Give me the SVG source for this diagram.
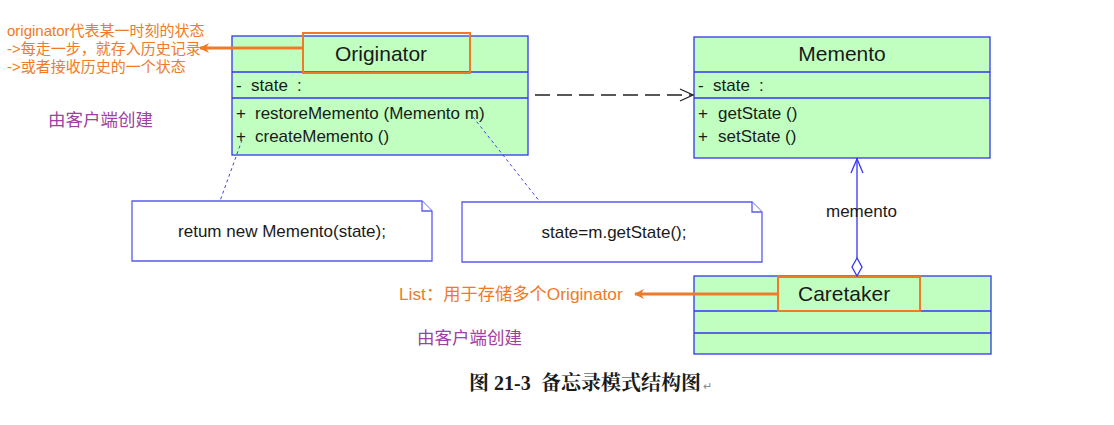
<svg xmlns="http://www.w3.org/2000/svg" width="1114" height="425" viewBox="0 0 1114 425">
<defs>
<style>
.cls{fill:#c0ffc0;stroke:#3535f5;stroke-width:1.3}
.div{stroke:#3535f5;stroke-width:1.3}
.t{font-family:"Liberation Sans","Noto Sans CJK SC",sans-serif;fill:#1a1a1a}
.title{font-size:21px;text-anchor:middle}
.mem{font-size:17px}
.note{fill:#ffffff;stroke:#5a5af0;stroke-width:1.3}
.ntxt{font-size:17px;text-anchor:middle}
.ann{font-family:"Liberation Sans","Noto Sans CJK SC",sans-serif;font-size:15px;fill:#f07a28}
.ann2{font-family:"Liberation Sans","Noto Sans CJK SC",sans-serif;font-size:17.3px;fill:#f07a28}
.purple{font-family:"Noto Sans CJK SC",sans-serif;font-size:17.5px;fill:#a040a0}
.hl{fill:none;stroke:#f07a28;stroke-width:2}
.dot{stroke:#4040f0;stroke-width:1;stroke-dasharray:3 3;fill:none}
.cap{font-weight:bold;font-size:20px;fill:#1a1a1a}
</style>
<marker id="oarr" markerWidth="10" markerHeight="10" refX="9" refY="5" orient="auto" markerUnits="userSpaceOnUse" viewBox="0 0 10 10">
<path d="M0,0 L10,5 L0,10 L3,5 Z" fill="#f07a28"/>
</marker>
</defs>

<g id="annotation-top">
<text class="ann" x="7" y="36">originator代表某一时刻的状态</text>
<text class="ann" x="7" y="54">-&gt;每走一步，就存入历史记录</text>
<text class="ann" x="7" y="72">-&gt;或者接收历史的一个状态</text>
</g>
<text class="purple" x="48" y="126">由客户端创建</text>

<g id="Originator">
<rect class="cls" x="232" y="36" width="296" height="119"/>
<line class="div" x1="232" y1="72" x2="528" y2="72"/>
<line class="div" x1="232" y1="98" x2="528" y2="98"/>
<text class="t title" x="381" y="61">Originator</text>
<text class="t mem" x="236" y="91">-</text><text class="t mem" x="251" y="91">state</text><text class="t mem" x="297" y="91">:</text>
<text class="t mem" x="236" y="119">+</text><text class="t mem" x="255" y="119">restoreMemento (Memento m)</text>
<text class="t mem" x="236" y="142">+</text><text class="t mem" x="255" y="142">createMemento ()</text>
<rect class="hl" x="303" y="33" width="167" height="40"/>
</g>

<g id="Memento">
<rect class="cls" x="694" y="37" width="296" height="121"/>
<line class="div" x1="694" y1="72" x2="990" y2="72"/>
<line class="div" x1="694" y1="98" x2="990" y2="98"/>
<text class="t title" x="842" y="61">Memento</text>
<text class="t mem" x="698" y="91">-</text><text class="t mem" x="713" y="91">state</text><text class="t mem" x="759" y="91">:</text>
<text class="t mem" x="698" y="119">+</text><text class="t mem" x="718" y="119">getState ()</text>
<text class="t mem" x="698" y="142">+</text><text class="t mem" x="718" y="142">setState ()</text>
</g>

<g id="Caretaker">
<rect class="cls" x="694" y="276" width="297" height="78"/>
<line class="div" x1="694" y1="311" x2="991" y2="311"/>
<line class="div" x1="694" y1="333" x2="991" y2="333"/>
<text class="t" x="798" y="301" font-size="21">Caretaker</text>
<rect class="hl" x="778" y="277" width="142" height="34"/>
</g>

<g id="note1">
<path class="note" d="M132,201 H422 L432,211 V261 H132 Z"/>
<path class="note" d="M422,201 V211 H432"/>
<text class="t ntxt" x="282" y="237">retum new Memento(state);</text>
</g>

<g id="note2">
<path class="note" d="M462,202 H752 L762,212 V262 H462 Z"/>
<path class="note" d="M752,202 V212 H762"/>
<text class="t ntxt" x="614" y="238">state=m.getState();</text>
</g>

<g id="annotation-caretaker">
<text class="ann2" x="399" y="300">List：用于存储多个Originator</text>
</g>
<text class="purple" x="417" y="344">由客户端创建</text>

<g id="connectors">
<line x1="303" y1="48" x2="200" y2="48" stroke="#f07a28" stroke-width="3" marker-end="url(#oarr)"/>
<line x1="778" y1="294" x2="635" y2="294" stroke="#f07a28" stroke-width="3" marker-end="url(#oarr)"/>
<line class="dot" x1="242" y1="140" x2="220" y2="201"/>
<line class="dot" x1="473" y1="117" x2="540" y2="202"/>
<line x1="535" y1="95" x2="692" y2="95" stroke="#222" stroke-width="1.3" stroke-dasharray="15 7"/>
<path d="M680,89 L693,95 L680,101" fill="none" stroke="#222" stroke-width="1.3"/>
<line x1="857" y1="158" x2="857" y2="258" stroke="#3535f5" stroke-width="1.3"/>
<path d="M851,173 L857,159 L863,173" fill="none" stroke="#3535f5" stroke-width="1.3"/>
<path d="M857,258 L862,267 L857,276 L852,267 Z" fill="#ffffff" stroke="#3535f5" stroke-width="1.3"/>
<text class="t" x="826" y="217" font-size="17">memento</text>
</g>

<g id="caption">
<text class="cap" x="469" y="390" font-family="'Noto Serif CJK SC','Noto Sans CJK SC',serif">图</text>
<text class="cap" x="494" y="390" font-family="'Liberation Serif',serif">21-3</text>
<text class="cap" x="541" y="390" font-family="'Noto Serif CJK SC','Noto Sans CJK SC',serif">备忘录模式结构图</text>
<text x="703" y="390" font-family="'Liberation Sans',sans-serif" font-size="11" fill="#888">↵</text>
</g>
</svg>
